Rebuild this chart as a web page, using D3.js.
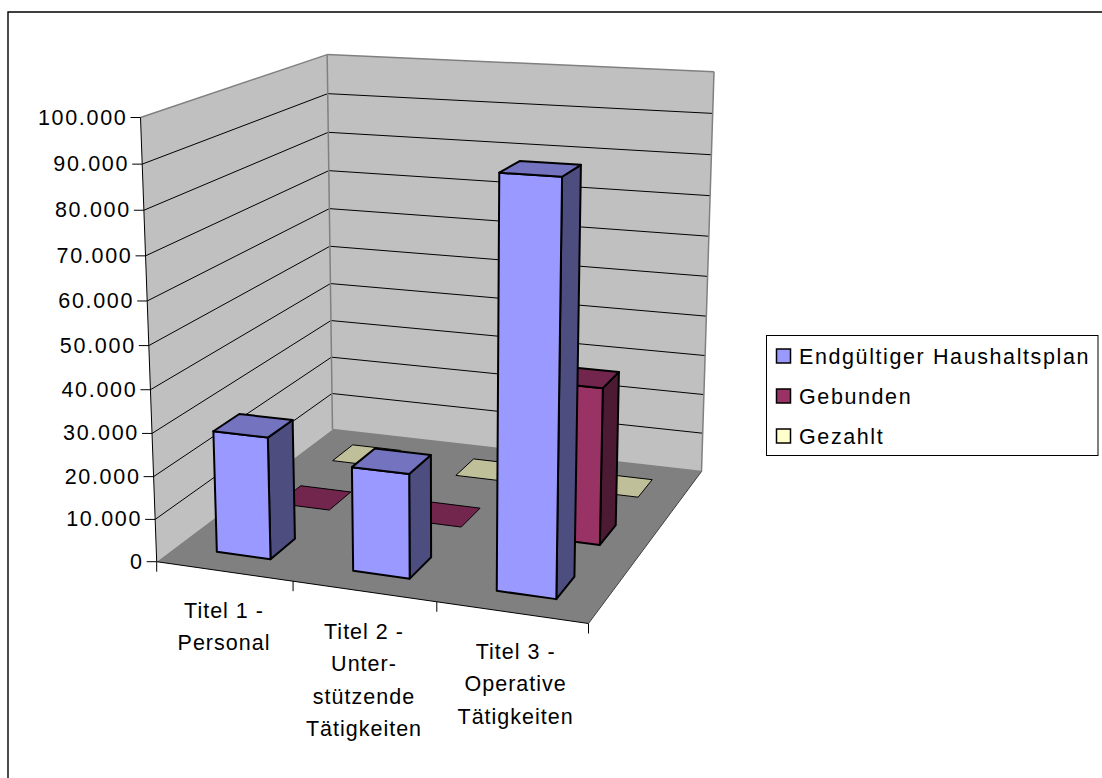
<!DOCTYPE html>
<html><head><meta charset="utf-8">
<script src="https://cdn.jsdelivr.net/npm/d3@7"></script>
<style>html,body{margin:0;padding:0;background:#fff}svg{display:block}text{font-family:"Liberation Sans",Arial,sans-serif;fill:#000}</style>
</head><body><div id="c"></div>
<script>
const categories = ["Titel 1 - Personal", "Titel 2 - Unterstützende Tätigkeiten", "Titel 3 - Operative Tätigkeiten"];
const categoryLines = [["Titel 1 -","Personal"],["Titel 2 -","Unter-","stützende","Tätigkeiten"],["Titel 3 -","Operative","Tätigkeiten"]];
const seriesNames = ["Endgültiger Haushaltsplan","Gebunden","Gezahlt"];
const endgueltig = [28500, 24000, 91000];
const gebunden = [0, 0, 37000];
const gezahlt = [0, 0, 0];
const tickValues = [0,10000,20000,30000,40000,50000,60000,70000,80000,90000,100000];
const tickLabels = ["0","10.000","20.000","30.000","40.000","50.000","60.000","70.000","80.000","90.000","100.000"];
const seriesValues = [endgueltig, gebunden, gezahlt];
const frontFill = ["#9999FF","#993366","#FFFFCC"];
const topFill = ["#7373BF","#73264D","#BFBF99"];
const sideFill = ["#4D4D80","#4D1A33","#808066"];
const labelBaseline = [618,639,659];
const labelShift = [0,0,4];

const W=1102,H=778;
const svg=d3.select("#c").append("svg").attr("width",W).attr("height",H);

// cube corners on screen: unit coordinates (x,d,v)
const O=[156.7,561.7],X=[588.5,623.5],D=[332.5,429.5],XD=[701.5,471.5],V=[140.5,117.5],XDVx=714;
function makeProjection(){
  const [x0,y0]=O,[x1,y1]=X,[x2,y2]=XD,[x3,y3]=D;
  const dx1=x1-x2,dx2=x3-x2,sx=x0-x1+x2-x3,dy1=y1-y2,dy2=y3-y2,sy=y0-y1+y2-y3;
  const den=dx1*dy2-dx2*dy1;
  const g=(sx*dy2-dx2*sy)/den,h=(dx1*sy-sx*dy1)/den;
  const a=x1-x0+g*x1,b=x3-x0+h*x3,c=x0,d=y1-y0+g*y1,e=y3-y0+h*y3,f=y0;
  const kp=(XDVx*(g+h)-a-b)/(V[0]-XDVx);
  const C1=V[0]*kp-c,C2=V[1]*kp-f,k=kp-1;
  return (px,pd,pv)=>{const w=g*px+h*pd+k*pv+1;return [(a*px+b*pd+C1*pv+c)/w,(d*px+e*pd+C2*pv+f)/w];};
}
const project=makeProjection();
const vScale=d3.scaleLinear().domain([0,100000]).range([0,1]);
const xStep=d3.scaleLinear().domain([0,categories.length]).range([0,1]);
const dStep=d3.scaleLinear().domain([0,seriesNames.length]).range([0,1]);
const poly=pts=>"M"+pts.map(p=>p.join(",")).join("L")+"Z";

// chart border
svg.append("path").attr("d",`M8,778V12H1102`).attr("fill","none").attr("stroke","#000").attr("stroke-width",1.4);

// walls and floor
const wall="#C0C0C0",edge="#808080";
svg.append("path").attr("d",poly([project(0,0,0),project(0,1,0),project(0,1,1),project(0,0,1)])).attr("fill",wall);
svg.append("path").attr("d",poly([project(0,1,0),project(1,1,0),project(1,1,1),project(0,1,1)])).attr("fill",wall);
svg.append("path").attr("d",poly([project(0,0,0),project(1,0,0),project(1,1,0),project(0,1,0)])).attr("fill","#808080");
// gridlines
tickValues.slice(1,-1).forEach(t=>{
  const v=vScale(t);
  svg.append("path").attr("d","M"+[project(0,0,v),project(0,1,v),project(1,1,v)].map(p=>p.join(",")).join("L")).attr("fill","none").attr("stroke","#000").attr("stroke-width",1);
});
// wall edges
[[[0,0,1],[0,1,1]],[[0,1,1],[1,1,1]],[[1,1,1],[1,1,0]],[[0,1,0],[0,1,1]],[[0,1,0],[1,1,0]]].forEach(([a,b])=>{
  svg.append("path").attr("d","M"+project(...a).join(",")+"L"+project(...b).join(",")).attr("stroke",edge).attr("stroke-width",1.5).attr("fill","none");
});
// axis lines
svg.append("path").attr("d","M"+project(0,0,0).join(",")+"L"+project(0,0,1).join(",")).attr("stroke","#000").attr("fill","none");
svg.append("path").attr("d","M"+project(0,0,0).join(",")+"L"+project(1,0,0).join(",")).attr("stroke","#000").attr("fill","none");
svg.append("path").attr("d","M"+project(1,0,0).join(",")+"L"+project(1,1,0).join(",")).attr("stroke","#404040").attr("fill","none");
// value ticks + labels
tickValues.forEach((t,i)=>{
  const p=project(0,0,vScale(t));
  svg.append("path").attr("d",`M${p[0]-10},${p[1]}L${p[0]},${p[1]}`).attr("stroke","#000");
  svg.append("text").attr("x",p[0]-13).attr("y",p[1]+7).attr("text-anchor","end").attr("font-size",21.5).attr("letter-spacing",1.7).text(tickLabels[i]);
});
// category ticks
d3.range(categories.length+1).forEach(i=>{
  const p=project(xStep(i),0,0);
  svg.append("path").attr("d",`M${p[0]},${p[1]}L${p[0]},${p[1]+10}`).attr("stroke","#000");
});
// category labels
categoryLines.forEach((lines,i)=>{
  const p=project(xStep(i+0.5),0,0);
  lines.forEach((l,j)=>{
    svg.append("text").attr("x",p[0]+labelShift[i]).attr("y",labelBaseline[i]+j*32.3).attr("text-anchor","middle").attr("font-size",21.5).attr("letter-spacing",1).text(l);
  });
});
// bars, back to front
for(let s=seriesNames.length-1;s>=0;s--){
  for(let c=categories.length-1;c>=0;c--){
    const v=vScale(seriesValues[s][c]);
    const x0=xStep(c+0.3), x1=xStep(c+0.7);
    const d0=dStep(s+0.3), d1=dStep(s+0.7);
    const g=svg.append("g").attr("stroke","#000").attr("stroke-width",v>0?2:1).attr("stroke-linejoin","round");
    if(v>0){
      g.append("path").attr("d",poly([project(x1,d0,0),project(x1,d1,0),project(x1,d1,v),project(x1,d0,v)])).attr("fill",sideFill[s]);
      g.append("path").attr("d",poly([project(x0,d0,0),project(x1,d0,0),project(x1,d0,v),project(x0,d0,v)])).attr("fill",frontFill[s]);
    }
    g.append("path").attr("d",poly([project(x0,d0,v),project(x1,d0,v),project(x1,d1,v),project(x0,d1,v)])).attr("fill",topFill[s]);
  }
}
// legend
const lg=svg.append("g");
lg.append("rect").attr("x",766.5).attr("y",335.5).attr("width",331.5).attr("height",120).attr("fill","#fff").attr("stroke","#000");
const ly=d3.scalePoint().domain(seriesNames).range([356,436]);
seriesNames.forEach((n,i)=>{
  lg.append("rect").attr("x",776.5).attr("y",ly(n)-7).attr("width",14).attr("height",14).attr("fill",frontFill[i]).attr("stroke","#000").attr("stroke-width",1.5);
  lg.append("text").attr("x",799).attr("y",ly(n)+7.5).attr("font-size",21.5).attr("letter-spacing",1.6).text(n);
});
</script></body></html>
